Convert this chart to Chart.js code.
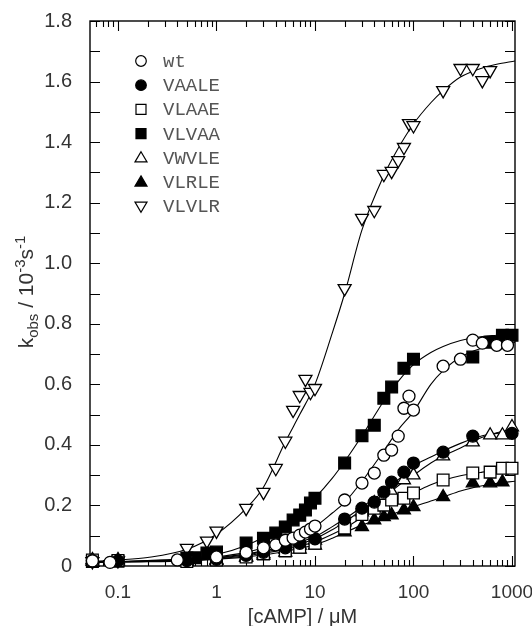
<!DOCTYPE html>
<html>
<head>
<meta charset="utf-8">
<script src="https://cdn.jsdelivr.net/npm/chart.js@4.4.0/dist/chart.umd.min.js"></script>
<style>
    html, body { margin: 0; padding: 0; background: #fff; }
    #wrap { width: 532px; height: 626px; }
</style>
</head>
<body>
<div id="wrap"><canvas id="chart" width="532" height="626"></canvas></div>
<script>
// x ticks (labelled decades) and y range
const xTickLabels = [0.1, 1, 10, 100, 1000];
const xMin = 0.052, xMax = 1073;
const yMin = 0, yMax = 1.8;

// measured points, [cAMP] in uM, kobs in 10^-3 s^-1
const wtX = [0.055, 0.083, 0.4, 1, 2, 3, 4, 5, 6, 7, 8, 9, 10, 20, 30, 40, 50, 60, 70, 80, 90, 100, 200, 300, 400, 500, 700, 900];
const wtY = [0.017, 0.012, 0.02, 0.03, 0.045, 0.06, 0.07, 0.085, 0.092, 0.102, 0.112, 0.122, 0.132, 0.218, 0.274, 0.307, 0.366, 0.383, 0.429, 0.521, 0.561, 0.515, 0.66, 0.683, 0.746, 0.736, 0.729, 0.729];

const vaaleX = [0.055, 0.1, 0.5, 1, 2, 3, 5, 7, 10, 20, 30, 40, 50, 60, 80, 100, 200, 400, 1000];
const vaaleY = [0.018, 0.017, 0.018, 0.022, 0.035, 0.045, 0.06, 0.075, 0.09, 0.155, 0.191, 0.211, 0.244, 0.277, 0.31, 0.34, 0.376, 0.429, 0.438];

const vlaaeX = [0.055, 0.1, 0.5, 1, 2, 3, 5, 7, 10, 20, 30, 40, 50, 60, 80, 100, 200, 400, 600, 800, 1000];
const vlaaeY = [0.02, 0.018, 0.015, 0.02, 0.03, 0.04, 0.05, 0.062, 0.075, 0.125, 0.17, 0.191, 0.201, 0.218, 0.224, 0.241, 0.284, 0.307, 0.31, 0.323, 0.323];

const vlvaaX = [0.055, 0.1, 0.5, 0.6, 0.8, 1, 2, 3, 4, 5, 6, 7, 8, 9, 10, 20, 30, 40, 50, 60, 80, 100, 400, 600, 800, 1000];
const vlvaaY = [0.015, 0.016, 0.026, 0.027, 0.043, 0.046, 0.076, 0.092, 0.109, 0.129, 0.152, 0.168, 0.185, 0.208, 0.224, 0.34, 0.43, 0.465, 0.554, 0.591, 0.653, 0.683, 0.69, 0.739, 0.762, 0.762];

const vwvleX = [0.055, 0.1, 0.5, 1, 2, 3, 5, 7, 10, 20, 30, 40, 50, 60, 80, 100, 200, 400, 600, 800, 1000];
const vwvleY = [0.02, 0.02, 0.016, 0.02, 0.03, 0.04, 0.055, 0.068, 0.085, 0.145, 0.178, 0.208, 0.228, 0.244, 0.284, 0.3, 0.363, 0.409, 0.432, 0.432, 0.459];

const vlrleX = [0.055, 0.1, 0.5, 1, 2, 3, 5, 7, 10, 20, 30, 40, 50, 60, 80, 100, 200, 400, 600, 800];
const vlrleY = [0.015, 0.015, 0.014, 0.018, 0.028, 0.035, 0.045, 0.055, 0.068, 0.112, 0.129, 0.152, 0.162, 0.168, 0.185, 0.195, 0.228, 0.274, 0.274, 0.277];

const vlvlrX = [0.055, 0.1, 0.5, 0.8, 1, 2, 3, 4, 5, 6, 7, 8, 9, 10, 20, 30, 40, 50, 60, 70, 80, 90, 100, 200, 300, 400, 500, 600];
const vlvlrY = [0.015, 0.018, 0.059, 0.083, 0.116, 0.191, 0.244, 0.323, 0.413, 0.515, 0.564, 0.617, 0.574, 0.587, 0.917, 1.149, 1.175, 1.294, 1.304, 1.34, 1.383, 1.462, 1.455, 1.571, 1.644, 1.644, 1.604, 1.637];

// fitted curves at these concentrations
const curveX = [0.052, 0.1, 0.2, 0.5, 1, 2, 3, 5, 7, 10, 15, 20, 30, 50, 70, 100, 150, 200, 300, 500, 700, 1073];
const wtCurve    = [0.014, 0.015, 0.017, 0.022, 0.03, 0.045, 0.06, 0.085, 0.105, 0.13, 0.175, 0.21, 0.28, 0.38, 0.45, 0.51, 0.6, 0.645, 0.69, 0.72, 0.73, 0.738];
const vaaleCurve = [0.013, 0.014, 0.016, 0.02, 0.027, 0.04, 0.05, 0.065, 0.08, 0.097, 0.13, 0.155, 0.195, 0.245, 0.285, 0.33, 0.36, 0.38, 0.405, 0.43, 0.438, 0.445];
const vlaaeCurve = [0.012, 0.013, 0.015, 0.018, 0.024, 0.034, 0.042, 0.055, 0.066, 0.08, 0.105, 0.125, 0.16, 0.2, 0.222, 0.242, 0.268, 0.283, 0.298, 0.31, 0.316, 0.322];
const vlvaaCurve = [0.012, 0.014, 0.018, 0.025, 0.038, 0.068, 0.095, 0.14, 0.18, 0.225, 0.29, 0.345, 0.43, 0.545, 0.61, 0.665, 0.705, 0.725, 0.745, 0.758, 0.762, 0.767];
const vwvleCurve = [0.013, 0.014, 0.016, 0.02, 0.026, 0.037, 0.046, 0.06, 0.073, 0.09, 0.12, 0.145, 0.185, 0.228, 0.265, 0.3, 0.34, 0.363, 0.39, 0.425, 0.44, 0.452];
const vlrleCurve = [0.012, 0.013, 0.014, 0.017, 0.022, 0.03, 0.037, 0.048, 0.058, 0.07, 0.092, 0.11, 0.135, 0.16, 0.178, 0.195, 0.215, 0.228, 0.248, 0.265, 0.273, 0.28];
const vlvlrCurve = [0.015, 0.02, 0.028, 0.055, 0.105, 0.19, 0.26, 0.41, 0.5, 0.6, 0.77, 0.9, 1.11, 1.29, 1.38, 1.46, 1.53, 1.57, 1.615, 1.645, 1.657, 1.668];

const seriesNames = ['wt', 'VAALE', 'VLAAE', 'VLVAA', 'VWVLE', 'VLRLE', 'VLVLR'];

const series = [
    { name: 'wt',    xs: wtX,    ys: wtY,    curve: wtCurve,    style: 'circle',   rot: 0,   fill: '#fff', r: 6 },
    { name: 'VAALE', xs: vaaleX, ys: vaaleY, curve: vaaleCurve, style: 'circle',   rot: 0,   fill: '#000', r: 6 },
    { name: 'VLAAE', xs: vlaaeX, ys: vlaaeY, curve: vlaaeCurve, style: 'rect',     rot: 0,   fill: '#fff', r: 8.3 },
    { name: 'VLVAA', xs: vlvaaX, ys: vlvaaY, curve: vlvaaCurve, style: 'rect',     rot: 0,   fill: '#000', r: 8.3 },
    { name: 'VWVLE', xs: vwvleX, ys: vwvleY, curve: vwvleCurve, style: 'triangle', rot: 0,   fill: '#fff', r: 7.5 },
    { name: 'VLRLE', xs: vlrleX, ys: vlrleY, curve: vlrleCurve, style: 'triangle', rot: 0,   fill: '#000', r: 7.5 },
    { name: 'VLVLR', xs: vlvlrX, ys: vlvlrY, curve: vlvlrCurve, style: 'triangle', rot: 180, fill: '#fff', r: 7.5 }
];

const datasets = [];
series.forEach(s => {
    datasets.push({
        label: s.name + ' fit',
        data: curveX.map((x, i) => ({ x: x, y: s.curve[i] })),
        showLine: true,
        borderColor: '#000',
        borderWidth: 1.1,
        pointRadius: 0,
        cubicInterpolationMode: 'monotone',
        order: 2
    });
});
series.forEach(s => {
    datasets.push({
        label: s.name,
        data: s.xs.map((x, i) => ({ x: x, y: s.ys[i] })),
        showLine: false,
        pointStyle: s.style,
        rotation: s.rot,
        pointRadius: s.r,
        pointBackgroundColor: s.fill,
        pointBorderColor: '#000',
        pointBorderWidth: 1.3,
        clip: false,
        order: 1
    });
});

// small marker drawer for the legend
function drawMarker(ctx, style, rot, fill, x, y, r) {
    ctx.save();
    ctx.fillStyle = fill;
    ctx.strokeStyle = '#000';
    ctx.lineWidth = 1.2;
    ctx.beginPath();
    if (style === 'circle') {
        ctx.arc(x, y, r, 0, Math.PI * 2);
    } else if (style === 'rect') {
        ctx.rect(x - r, y - r, 2 * r, 2 * r);
    } else {
        const d = rot === 180 ? -1 : 1;
        const h = r * 1.7;
        ctx.moveTo(x, y - d * h * 0.6);
        ctx.lineTo(x + r, y + d * h * 0.4);
        ctx.lineTo(x - r, y + d * h * 0.4);
        ctx.closePath();
    }
    ctx.fill();
    ctx.stroke();
    ctx.restore();
}

const framePlugin = {
    id: 'frame',
    beforeDatasetsDraw(chart) {
        const ctx = chart.ctx;
        const a = chart.chartArea;
        const xs = chart.scales.x, ys = chart.scales.y;
        ctx.save();
        ctx.strokeStyle = '#000';
        ctx.lineWidth = 1.4;
        ctx.strokeRect(a.left, a.top, a.right - a.left, a.bottom - a.top);
        ctx.beginPath();
        // log minor ticks on bottom and top
        for (let d = 0.01; d <= 1000; d *= 10) {
            for (let m = 1; m <= 9; m++) {
                const v = m * d;
                if (v < xMin || v > xMax) continue;
                const px = Math.round(xs.getPixelForValue(v)) + 0.5;
                const len = m === 1 ? 10 : 6;
                ctx.moveTo(px, a.bottom); ctx.lineTo(px, a.bottom - len);
                ctx.moveTo(px, a.top); ctx.lineTo(px, a.top + len);
            }
        }
        for (let k = 0; k <= 18; k++) {
            const py = Math.round(ys.getPixelForValue(k / 10)) + 0.5;
            ctx.moveTo(a.left, py); ctx.lineTo(a.left + 10, py);
            ctx.moveTo(a.right, py); ctx.lineTo(a.right - 10, py);
        }
        ctx.lineWidth = 1.1;
        ctx.stroke();

        // axis titles
        ctx.fillStyle = '#333';
        ctx.font = '20px "Liberation Sans", Arial, sans-serif';
        ctx.textAlign = 'center';
        ctx.textBaseline = 'middle';
        ctx.fillText('[cAMP] / \u03bcM', (a.left + a.right) / 2, 617);

        const parts = [
            { t: 'k', size: 21, dy: 0 },
            { t: 'obs', size: 15, dy: 5 },
            { t: ' / 10', size: 21, dy: 0 },
            { t: '-3', size: 15, dy: -8 },
            { t: 's', size: 21, dy: 0 },
            { t: '-1', size: 15, dy: -8 }
        ];
        let total = 0;
        parts.forEach(p => {
            ctx.font = p.size + 'px "Liberation Sans", Arial, sans-serif';
            p.w = ctx.measureText(p.t).width;
            total += p.w;
        });
        ctx.translate(33, 292);
        ctx.rotate(-Math.PI / 2);
        ctx.textAlign = 'left';
        ctx.textBaseline = 'alphabetic';
        let cx = -total / 2;
        parts.forEach(p => {
            ctx.font = p.size + 'px "Liberation Sans", Arial, sans-serif';
            ctx.fillText(p.t, cx, p.dy);
            cx += p.w;
        });
        ctx.restore();
    },
    afterDraw(chart) {
        const ctx = chart.ctx;
        ctx.save();
        series.forEach((s, i) => {
            const y = 61 + i * 24.2;
            const r = s.style === 'circle' ? 5.3 : (s.style === 'rect' ? 5 : 6);
            drawMarker(ctx, s.style, s.rot, s.fill, 141, y, r);
            ctx.fillStyle = '#555';
            ctx.font = '19px "Liberation Mono", "Courier New", monospace';
            ctx.textAlign = 'left';
            ctx.textBaseline = 'middle';
            ctx.fillText(seriesNames[i], 163, y + 1);
        });
        ctx.restore();
    }
};

new Chart(document.getElementById('chart'), {
    type: 'scatter',
    data: { datasets: datasets },
    options: {
        responsive: false,
        animation: false,
        layout: { padding: { top: 21, right: 17, left: 0, bottom: 0 } },
        plugins: { legend: { display: false }, tooltip: { enabled: false } },
        scales: {
            x: {
                type: 'logarithmic',
                min: xMin,
                max: xMax,
                grid: { display: false, drawTicks: false },
                border: { display: false },
                afterBuildTicks(scale) {
                    scale.ticks = xTickLabels.map(v => ({ value: v }));
                },
                afterFit(scale) {
                    scale.height = 60;
                    scale.paddingLeft = 0;
                    scale.paddingRight = 0;
                },
                ticks: {
                    color: '#333',
                    padding: 15,
                    maxRotation: 0,
                    autoSkip: false,
                    font: { family: '"Liberation Sans", Arial, sans-serif', size: 19 },
                    callback: v => String(v)
                }
            },
            y: {
                min: yMin,
                max: yMax,
                grid: { display: false, drawTicks: false },
                border: { display: false },
                afterFit(scale) {
                    scale.width = 90;
                    scale.paddingTop = 0;
                    scale.paddingBottom = 0;
                },
                ticks: {
                    stepSize: 0.2,
                    color: '#333',
                    padding: 18,
                    font: { family: '"Liberation Sans", Arial, sans-serif', size: 20 },
                    callback: v => (Math.abs(v) < 1e-9 ? '0' : v.toFixed(1))
                }
            }
        }
    },
    plugins: [framePlugin]
});
</script>
</body>
</html>
